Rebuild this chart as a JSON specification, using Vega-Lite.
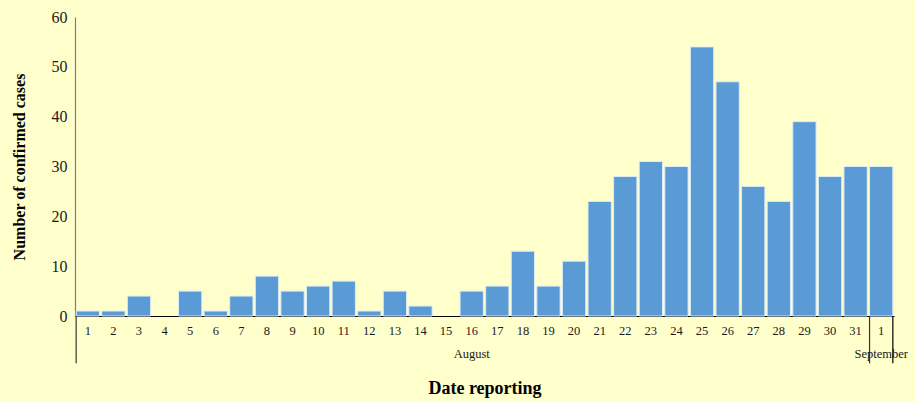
{
  "$schema": "https://vega.github.io/schema/vega-lite/v6.json",
  "width": 819,
  "height": 299,
  "autosize": "none",
  "padding": {"left": 75, "top": 17, "right": 21, "bottom": 85},
  "background": "#FFFFCC",
  "config": {
    "view": {"stroke": null},
    "font": "Liberation Serif",
    "axis": {"labelFont": "Liberation Serif", "titleFont": "Liberation Serif", "grid": false}
  },
  "datasets": {
    "cases": [
      {"date": "1 Aug", "cases": 1}, {"date": "2 Aug", "cases": 1}, {"date": "3 Aug", "cases": 4},
      {"date": "4 Aug", "cases": 0}, {"date": "5 Aug", "cases": 5}, {"date": "6 Aug", "cases": 1},
      {"date": "7 Aug", "cases": 4}, {"date": "8 Aug", "cases": 8}, {"date": "9 Aug", "cases": 5},
      {"date": "10 Aug", "cases": 6}, {"date": "11 Aug", "cases": 7}, {"date": "12 Aug", "cases": 1},
      {"date": "13 Aug", "cases": 5}, {"date": "14 Aug", "cases": 2}, {"date": "15 Aug", "cases": 0},
      {"date": "16 Aug", "cases": 5}, {"date": "17 Aug", "cases": 6}, {"date": "18 Aug", "cases": 13},
      {"date": "19 Aug", "cases": 6}, {"date": "20 Aug", "cases": 11}, {"date": "21 Aug", "cases": 23},
      {"date": "22 Aug", "cases": 28}, {"date": "23 Aug", "cases": 31}, {"date": "24 Aug", "cases": 30},
      {"date": "25 Aug", "cases": 54}, {"date": "26 Aug", "cases": 47}, {"date": "27 Aug", "cases": 26},
      {"date": "28 Aug", "cases": 23}, {"date": "29 Aug", "cases": 39}, {"date": "30 Aug", "cases": 28},
      {"date": "31 Aug", "cases": 30}, {"date": "1 Sep", "cases": 30}
    ],
    "months": [
      {"date": "16 Aug", "month": "August"},
      {"date": "1 Sep", "month": "September"}
    ],
    "seps_left": [
      {"date": "1 Aug", "top": 0, "bottom": -9.5},
      {"date": "1 Sep", "top": 0, "bottom": -9.5}
    ],
    "seps_right": [
      {"date": "1 Sep", "top": 0, "bottom": -9.5}
    ]
  },
  "encoding": {
    "x": {
      "field": "date",
      "type": "nominal",
      "sort": null,
      "scale": {
        "domain": ["1 Aug","2 Aug","3 Aug","4 Aug","5 Aug","6 Aug","7 Aug","8 Aug","9 Aug","10 Aug","11 Aug","12 Aug","13 Aug","14 Aug","15 Aug","16 Aug","17 Aug","18 Aug","19 Aug","20 Aug","21 Aug","22 Aug","23 Aug","24 Aug","25 Aug","26 Aug","27 Aug","28 Aug","29 Aug","30 Aug","31 Aug","1 Sep"],
        "paddingInner": 0.09,
        "paddingOuter": 0.045
      }
    }
  },
  "layer": [
    {
      "data": {"name": "cases"},
      "transform": [{"filter": "datum.cases > 0"}],
      "mark": {"type": "bar", "color": "#5B9BD5", "stroke": "#DCEBF7", "strokeWidth": 1},
      "encoding": {
        "x": {
          "field": "date",
          "type": "nominal",
          "sort": null,
          "axis": {
            "title": "Date reporting",
            "titleFontSize": 18,
            "titleFontWeight": "bold",
            "titleColor": "#000000",
            "titlePadding": 43,
            "labelExpr": "split(datum.label, ' ')[0]",
            "labelAngle": 0,
            "labelFontSize": 12.5,
            "labelColor": "#1a1a1a",
            "labelPadding": 8,
            "ticks": false,
            "domainColor": "#000000",
            "domainWidth": 1.2
          }
        },
        "y": {
          "field": "cases",
          "type": "quantitative",
          "scale": {"domain": [0, 60], "nice": false},
          "axis": {
            "title": "Number of confirmed cases",
            "titleFontSize": 16,
            "titleFontWeight": "bold",
            "titleColor": "#000000",
            "titlePadding": 24,
            "values": [0, 10, 20, 30, 40, 50, 60],
            "labelFontSize": 16,
            "labelColor": "#1a1a1a",
            "labelPadding": 8,
            "ticks": false,
            "domainColor": "#7f7f7f",
            "domainWidth": 1.2
          }
        }
      }
    },
    {
      "data": {"name": "seps_left"},
      "mark": {"type": "rule", "color": "#333333", "strokeWidth": 1.2},
      "encoding": {
        "x": {"field": "date", "type": "nominal", "sort": null, "bandPosition": 0},
        "y": {"field": "top", "type": "quantitative"},
        "y2": {"field": "bottom"}
      }
    },
    {
      "data": {"name": "seps_right"},
      "mark": {"type": "rule", "color": "#000000", "strokeWidth": 1.2},
      "encoding": {
        "x": {"field": "date", "type": "nominal", "sort": null, "bandPosition": 1},
        "y": {"field": "top", "type": "quantitative"},
        "y2": {"field": "bottom"}
      }
    },
    {
      "data": {"name": "months"},
      "mark": {"type": "text", "fontSize": 12.5, "color": "#1a1a1a", "baseline": "middle", "dy": 38},
      "encoding": {
        "x": {"field": "date", "type": "nominal", "sort": null},
        "y": {"datum": 0},
        "text": {"field": "month"}
      }
    }
  ]
}
